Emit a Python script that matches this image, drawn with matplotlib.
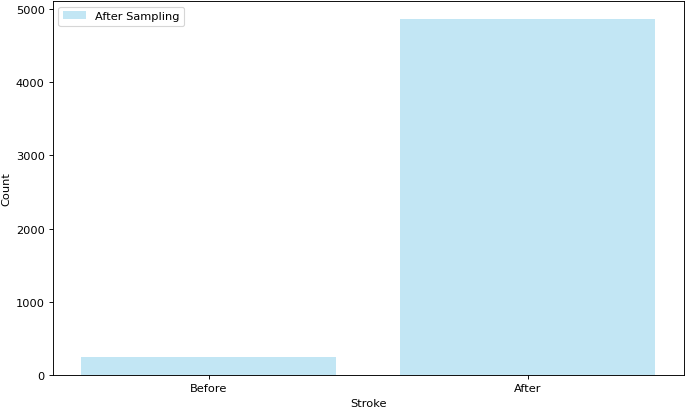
import matplotlib
matplotlib.use('Agg')
import matplotlib.pyplot as plt

# class counts before and after resampling
labels = ['Before', 'After']
counts = [249, 4861]

# lower dpi so text and ticks come out at the reference's smaller scale
dpi = 82
fig, ax = plt.subplots(figsize=(685 / dpi, 411 / dpi), dpi=dpi)
fig.subplots_adjust(left=0.077, right=0.9985, bottom=0.085, top=0.995)

ax.bar(labels, counts, color='skyblue', alpha=0.5, label='After Sampling')
ax.set_xlabel('Stroke')
ax.set_ylabel('Count')
ax.legend(loc='upper left')

fig.savefig('out.png', dpi=dpi)
